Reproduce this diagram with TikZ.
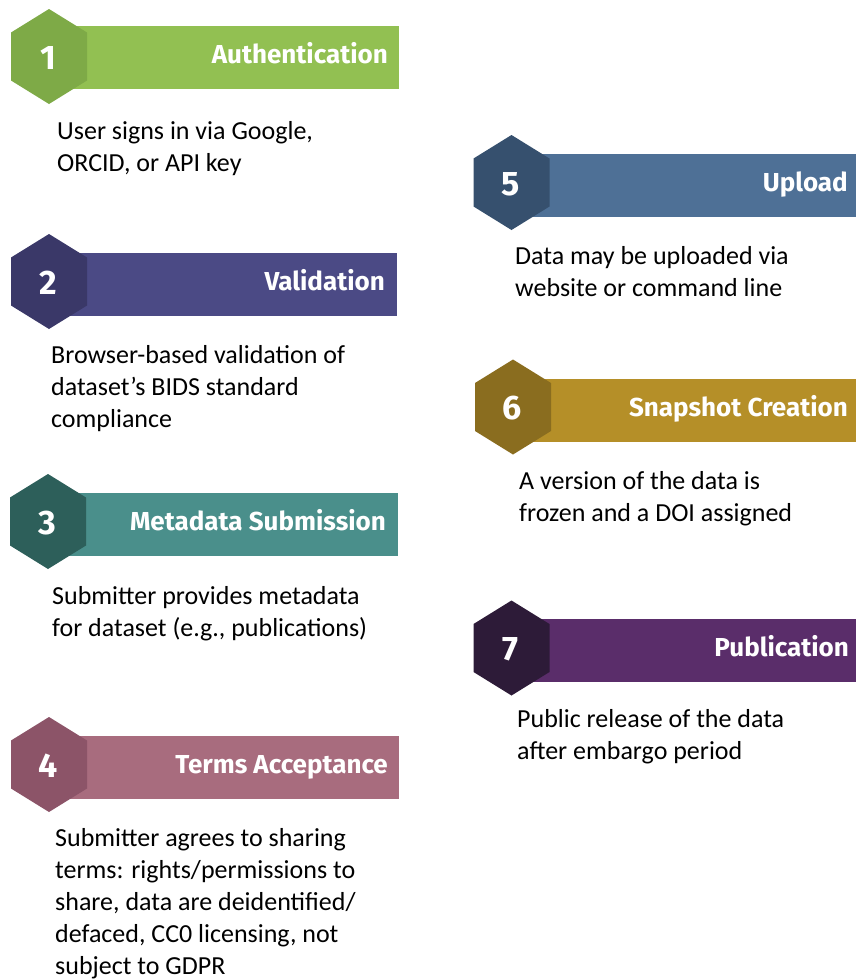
\documentclass[tikz,border=0pt]{standalone}
\usepackage{fontspec}
\setmainfont{Carlito}
\newfontfamily\titlefont{Fira Sans}
\definecolor{barA}{HTML}{92C052}\definecolor{hexA}{HTML}{7EAA47}
\definecolor{barB}{HTML}{4B4A85}\definecolor{hexB}{HTML}{3A3868}
\definecolor{barC}{HTML}{4A8F8B}\definecolor{hexC}{HTML}{2D5F5A}
\definecolor{barD}{HTML}{A86C7E}\definecolor{hexD}{HTML}{8C5468}
\definecolor{barE}{HTML}{4E7096}\definecolor{hexE}{HTML}{36506E}
\definecolor{barF}{HTML}{B58F28}\definecolor{hexF}{HTML}{8A6D1F}
\definecolor{barG}{HTML}{5A2D6A}\definecolor{hexG}{HTML}{2D1B38}
\tikzset{
  numtext/.style={font=\titlefont\bfseries\fontsize{34}{34}\selectfont, text=white, anchor=base, inner sep=0pt},
  titletext/.style={font=\titlefont\bfseries\fontsize{26}{26}\selectfont, text=white, anchor=base east, inner sep=0pt},
  desc/.style={font=\fontsize{26}{32}\selectfont, anchor=base west, align=left, inner sep=0pt, text=black},
}
% #1 number, #2 cx, #3 cy, #4 bar top, #5 bar right, #6 hex colour, #7 bar colour, #8 title right x, #9 title
\newcommand\stepitem[9]{%
  \fill[#7] (#2,#4) rectangle (#5,#4+63);
  \begin{scope}[shift={(#2,#3)}]
    \fill[#6] (0,-47.5) -- (38,-24) -- (38,24) -- (0,47.5) -- (-38,24) -- (-38,-24) -- cycle;
  \end{scope}
  \node[numtext] (n#1) at (#2-1,#3+12.5) {#1};
  \node[titletext] (t#1) at (#8,#4+37.5) {#9};
}
\begin{document}
\begin{tikzpicture}[x=1pt,y=-1pt]
\useasboundingbox[fill=white] (0,0) rectangle (856,980);
\stepitem{1}{49}{56.5}{26}{399}{hexA}{barA}{388}{Authentication}
\stepitem{2}{49}{281.5}{253}{397}{hexB}{barB}{385}{Validation}
\stepitem{3}{48}{521.5}{493}{398}{hexC}{barC}{386}{Metadata Submission}
\stepitem{4}{49}{764.5}{736}{399}{hexD}{barD}{388}{Terms Acceptance}
\stepitem{5}{511.5}{182.5}{154}{870}{hexE}{barE}{848}{Upload}
\stepitem{6}{513}{407}{379}{870}{hexF}{barF}{848}{Snapshot Creation}
\stepitem{7}{511.5}{648}{619}{870}{hexG}{barG}{849}{Publication}
% anchor = baseline of the last line
\node[desc] (d1) at (57,171) {User signs in via Google,\\ORCID, or API key};
\node[desc] (d2) at (51,427) {Browser-based validation of\\dataset’s BIDS standard\\compliance};
\node[desc] (d3) at (52,636) {Submitter provides metadata\\for dataset (e.g., publications)};
\node[desc] (d4) at (55,974) {Submitter agrees to sharing\\terms: rights/permissions to\\share, data are deidentified/\\defaced, CC0 licensing, not\\subject to GDPR};
\node[desc] (d5) at (515,296) {Data may be uploaded via\\website or command line};
\node[desc] (d6) at (519,521) {A version of the data is\\frozen and a DOI assigned};
\node[desc] (d7) at (517,759) {Public release of the data\\after embargo period};
\end{tikzpicture}
\end{document}
